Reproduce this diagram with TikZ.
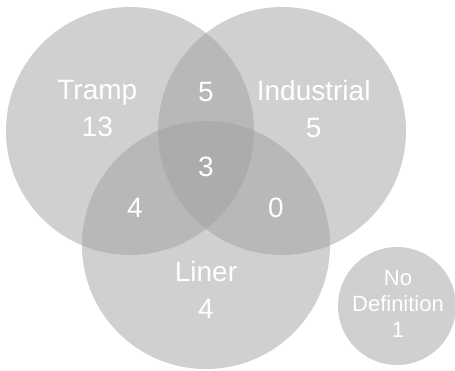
\documentclass[tikz,border=0pt]{standalone}
\usepackage{fontspec}
\setmainfont{Liberation Sans}
\definecolor{venngray}{RGB}{161,161,161}
\begin{document}
\begin{tikzpicture}[x=1pt,y=-1pt,
  setfill/.style={fill=venngray,fill opacity=0.5},
  biglabel/.style={text=white,font=\fontsize{28}{37}\selectfont,align=center,inner sep=0pt},
  smalllabel/.style={text=white,font=\fontsize{22}{26}\selectfont,align=center,inner sep=0pt}]
\useasboundingbox (0,0) rectangle (455,370);
\fill[setfill] (130,131) circle[radius=124];
\fill[setfill] (282,131) circle[radius=124];
\fill[setfill] (206,245) circle[radius=124];
\fill[setfill] (397,306) circle[radius=59];
\node[biglabel] (tramp) at (97.3,108.8) {Tramp\\13};
\node[biglabel] (industrial) at (313.7,108.5) {Industrial\\5};
\node[biglabel] (liner) at (206,289.8) {Liner\\4};
\node[biglabel,anchor=base] (ti) at (206,101) {5};
\node[biglabel,anchor=base] (til) at (206,176.5) {3};
\node[biglabel,anchor=base] (tl) at (135,217) {4};
\node[biglabel,anchor=base] (il) at (276,217) {0};
\node[smalllabel] (nodef) at (398,303.8) {No\\Definition\\1};
\end{tikzpicture}
\end{document}
